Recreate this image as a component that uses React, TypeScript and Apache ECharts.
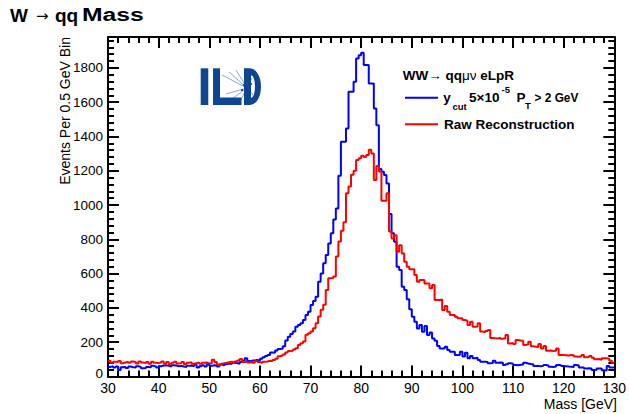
import React, { useEffect, useRef } from "react";
import * as echarts from "echarts";

// ---- data ----
const BIN_START = 30; // GeV, lower edge of first bin
const BIN_WIDTH = 0.5; // GeV per bin
const X_MIN = 30;
const X_MAX = 130;
const X_STEP = 10;
const Y_MAX = 1980;
const Y_STEP = 200;
const Y_MINOR_STEP = 40;

// y_cut 5x10^-5, P_T > 2 GeV (blue), events per 0.5 GeV bin from 30 to 130 GeV
const ycutCounts = [
  56, 60, 52, 58, 38, 54, 56, 50, 58, 54, 52, 60, 56, 48, 50, 56, 54, 62, 58, 52,
  60, 64, 66, 62, 58, 66, 64, 60, 62, 58, 56, 62, 64, 60, 70, 52, 60, 66, 58, 72,
  62, 66, 64, 58, 70, 66, 72, 76, 74, 80, 78, 74, 84, 92, 106, 90, 88, 94, 96, 92,
  104, 112, 120, 126, 140, 138, 152, 160, 162, 176, 210, 232, 248, 262, 290, 300, 310, 329, 358, 378,
  417, 440, 465, 553, 601, 660, 708, 776, 835, 916, 980, 1171, 1369, 1369, 1447, 1660, 1660, 1719, 1855, 1874,
  1888, 1816, 1816, 1709, 1709, 1563, 1466, 1210, 1194, 1175, 1126, 947, 835, 786, 640, 621, 524, 504, 450, 392,
  349, 320, 280, 300, 261, 294, 242, 256, 222, 209, 178, 164, 164, 173, 154, 145, 145, 125, 125, 145,
  116, 139, 106, 120, 106, 110, 96, 86, 86, 84, 77, 78, 92, 80, 82, 80, 67, 72, 77, 74,
  67, 66, 68, 70, 80, 76, 73, 72, 61, 62, 60, 62, 67, 64, 57, 56, 58, 67, 66, 61,
  60, 58, 57, 56, 67, 64, 53, 52, 47, 48, 46, 38, 40, 47, 46, 36, 35, 61, 53, 53,
];

// Raw reconstruction (red)
const rawCounts = [
  92, 80, 86, 84, 90, 78, 82, 86, 80, 88, 84, 76, 88, 82, 78, 84, 74, 86, 80, 78,
  82, 88, 76, 84, 70, 80, 86, 76, 78, 84, 72, 80, 84, 74, 78, 82, 74, 80, 82, 78,
  76, 98, 84, 70, 74, 78, 80, 84, 86, 82, 88, 94, 102, 84, 88, 82, 86, 80, 90, 84,
  80, 86, 88, 92, 90, 96, 104, 118, 122, 128, 140, 148, 150, 158, 165, 184, 194, 204, 243, 252,
  262, 282, 311, 350, 389, 418, 505, 573, 575, 583, 700, 787, 850, 900, 1069, 1108, 1176, 1200, 1263, 1273,
  1287, 1280, 1292, 1322, 1300, 1146, 1228, 1195, 1025, 1025, 1069, 845, 805, 824, 727, 766, 718, 669, 640, 625,
  625, 592, 553, 563, 563, 543, 543, 514, 533, 446, 446, 450, 388, 411, 378, 359, 359, 349, 339, 339,
  330, 326, 300, 320, 290, 292, 310, 262, 258, 265, 271, 225, 223, 222, 226, 220, 223, 242, 193, 195,
  190, 213, 210, 208, 184, 186, 203, 176, 174, 172, 190, 164, 178, 150, 152, 148, 150, 164, 125, 126,
  124, 122, 126, 124, 116, 115, 118, 125, 112, 114, 120, 110, 100, 102, 98, 106, 106, 104, 92, 80,
];

const TITLE_PARTS = ["W", "→", "qq", "Mass"]; // "W → qq Mass"
const Y_TITLE = "Events Per 0.5 GeV Bin";
const X_TITLE = "Mass [GeV]";
const SERIES_NAMES = ["y_cut 5×10^-5 P_T > 2 GeV", "Raw Reconstruction"];

// ---- styles ----
const FONT = "'Liberation Sans', Arial, Helvetica, sans-serif";
const SYMFONT = "'DejaVu Sans', sans-serif";
const BLUE = "#0000ff";
const RED = "#ff0000";
const LOGO = "#0f4592";

function histData(counts: number[]) {
  const pts: number[][] = counts.map((v, i) => [BIN_START + i * BIN_WIDTH, v]);
  pts.push([BIN_START + counts.length * BIN_WIDTH, counts[counts.length - 1]]);
  return pts;
}

let registered = false;
function registerShapes() {
  if (registered) return;
  registered = true;
  echarts.graphic.registerShape(
    "ildD",
    echarts.graphic.extendPath(
      "M0 0 H6 A11 18.35 0 0 1 6 36.7 H0 Z M7 7 V29.7 A4 11.35 0 0 0 7 7 Z",
      {}
    )
  );
}

const tickStyle = { color: "#000", width: 2 };
const frameLine = { show: true, onZero: false, lineStyle: { color: "#000", width: 2 } };

function xAxisDef(position: string, labels: boolean) {
  return {
    type: "value",
    position,
    min: X_MIN,
    max: X_MAX,
    interval: X_STEP,
    axisLine: frameLine,
    axisTick: { show: true, inside: true, length: 11, lineStyle: tickStyle },
    minorTick: { show: true, splitNumber: 5, length: 6, lineStyle: tickStyle },
    splitLine: { show: false },
    minorSplitLine: { show: false },
    axisLabel: labels
      ? { show: true, color: "#000", fontSize: 14, fontFamily: FONT, margin: 4 }
      : { show: false },
  };
}

function yAxisDef(position: string, step: number, tickLen: number, labels: boolean, line: boolean) {
  return {
    type: "value",
    position,
    min: 0,
    max: Y_MAX,
    interval: step,
    axisLine: line ? frameLine : { show: false },
    axisTick: { show: true, inside: true, length: tickLen, lineStyle: tickStyle },
    splitLine: { show: false },
    axisLabel: labels
      ? {
          show: true,
          color: "#000",
          fontSize: 13.5,
          fontFamily: FONT,
          margin: 5,
          formatter: (v: number) => (v === 0 ? "{z|0}" : v % Y_STEP === 0 ? String(v) : ""),
          rich: { z: { fontSize: 13.5, fontFamily: FONT, color: "#000", padding: [0, 0, 7, 0] } },
        }
      : { show: false },
  };
}

function logoGraphics() {
  const tracks = [
    [247, 88, 222, 75],
    [247, 88, 229, 72],
    [247, 88, 236, 70],
    [247, 88, 226, 94],
    [247, 88, 232, 99],
    [247, 88, 240, 101],
    [247, 88, 252, 78],
    [247, 88, 253, 95],
  ];
  const els: any[] = [
    { type: "rect", shape: { x: 200.7, y: 68.3, width: 7.6, height: 36.7 }, style: { fill: LOGO } },
    { type: "rect", shape: { x: 213, y: 68.3, width: 7, height: 36.7 }, style: { fill: LOGO } },
    { type: "rect", shape: { x: 213, y: 97.5, width: 28.5, height: 7.5 }, style: { fill: LOGO } },
    { type: "ildD", x: 244, y: 68.3, style: { fill: LOGO } },
  ];
  tracks.forEach((t) =>
    els.push({
      type: "line",
      shape: { x1: t[0], y1: t[1], x2: t[2], y2: t[3] },
      style: { stroke: LOGO, lineWidth: 0.6, opacity: 0.8 },
    })
  );
  [
    [244, 85],
    [249, 91],
    [246, 93],
    [251, 84],
    [242, 90],
  ].forEach((p) =>
    els.push({ type: "circle", shape: { cx: p[0], cy: p[1], r: 1.1 }, style: { fill: LOGO } })
  );
  return els;
}

function textEl(x: number, y: number, text: string, size: number, bold: boolean, extra: any = {}, el: any = {}) {
  return {
    type: "text",
    x,
    y,
    ...el,
    style: {
      text,
      fontSize: size,
      fontWeight: bold ? "bold" : "normal",
      fontFamily: FONT,
      fill: "#000",
      align: "left",
      verticalAlign: "middle",
      ...extra,
    },
  };
}

export default function App() {
  const ref = useRef<HTMLDivElement>(null);
  useEffect(() => {
    if (!ref.current) return;
    registerShapes();
    const chart = echarts.init(ref.current, null, { renderer: "svg" });
    const LS = 13.5;
    const option: any = {
      animation: false,
      backgroundColor: "#fff",
      grid: { left: 108, right: 12, top: 37, bottom: 37.5, containLabel: false },
      xAxis: [xAxisDef("bottom", true), xAxisDef("top", false)],
      yAxis: [
        yAxisDef("left", Y_STEP, 11, true, true),
        yAxisDef("left", Y_MINOR_STEP, 6, false, false),
        yAxisDef("right", Y_STEP, 11, false, true),
        yAxisDef("right", Y_MINOR_STEP, 6, false, false),
      ],
      series: [
        {
          name: SERIES_NAMES[0],
          type: "line",
          step: "end",
          symbol: "none",
          xAxisIndex: 0,
          yAxisIndex: 0,
          data: histData(ycutCounts),
          lineStyle: { color: BLUE, width: 2 },
          z: 3,
        },
        {
          name: SERIES_NAMES[1],
          type: "line",
          step: "end",
          symbol: "none",
          xAxisIndex: 0,
          yAxisIndex: 0,
          data: histData(rawCounts),
          lineStyle: { color: RED, width: 2 },
          z: 4,
        },
      ],
      graphic: [
        textEl(10, 15, TITLE_PARTS[0], 19, true),
        textEl(36, 16, TITLE_PARTS[1], 15, false, { fontFamily: SYMFONT }),
        textEl(55, 15, TITLE_PARTS[2], 19, true),
        textEl(82, 15, TITLE_PARTS[3], 19, true, {}, { scaleX: 1.3 }),
        textEl(65, 37, Y_TITLE, 14, false, { align: "right" }, { rotation: Math.PI / 2 }),
        textEl(617, 404, X_TITLE, 14, false, { align: "right" }),
        ...logoGraphics(),
        {
          type: "text",
          x: 402.7,
          y: 75,
          style: {
            text: "{b|WW}{n|→ }{b|qq}{n|μν}{b| eLpR}",
            fontFamily: FONT,
            verticalAlign: "middle",
            rich: {
              b: { fontSize: LS, fontWeight: "bold", fontFamily: FONT, fill: "#000" },
              n: { fontSize: LS, fontWeight: "normal", fontFamily: FONT, fill: "#000" },
            },
          },
        },
        { type: "line", shape: { x1: 405, y1: 97.7, x2: 438, y2: 97.7 }, style: { stroke: BLUE, lineWidth: 2 } },
        { type: "line", shape: { x1: 405, y1: 124.3, x2: 438, y2: 124.3 }, style: { stroke: RED, lineWidth: 2 } },
        textEl(443.3, 97.7, "y", LS, true),
        textEl(452.5, 106.5, "cut", 9.5, true),
        textEl(469, 97.7, "5×10", LS, true),
        textEl(501.5, 89.3, "-5", 9.5, true),
        textEl(516.5, 97.7, "P", LS, true),
        textEl(525, 105.5, "T", 9.5, true),
        textEl(534.5, 97.7, "> 2 GeV", LS, true, {}, { scaleX: 0.88 }),
        textEl(444, 124.3, SERIES_NAMES[1], LS, true),
      ],
    };
    chart.setOption(option);
    return () => chart.dispose();
  }, []);
  return (
    <div
      ref={ref}
      style={{ position: "fixed", left: 0, top: 0, width: 629, height: 414, background: "#fff" }}
    />
  );
}
